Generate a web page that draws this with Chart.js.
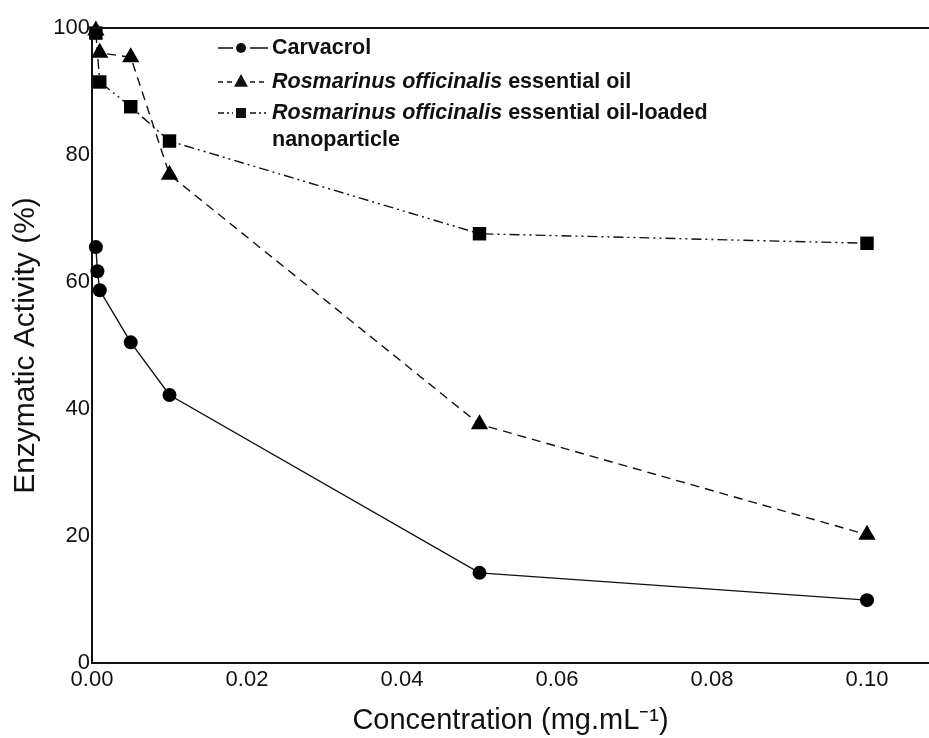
<!DOCTYPE html>
<html>
<head>
<meta charset="utf-8">
<script src="https://cdn.jsdelivr.net/npm/chart.js@4.4.1/dist/chart.umd.min.js"></script>
<style>
  html, body { margin: 0; padding: 0; background: #fff; }
  #wrap { width: 929px; height: 738px; }
</style>
</head>
<body>
<div id="wrap"><canvas id="chart"></canvas></div>
<script>
// concentrations (mg/mL) and enzymatic activity (%)
const carvacrolX = [0.0005, 0.0007, 0.001, 0.005, 0.01, 0.05, 0.1];
const carvacrolY = [65.5, 61.7, 58.7, 50.5, 42.2, 14.2, 9.9];

const oilX = [0.0005, 0.001, 0.005, 0.01, 0.05, 0.1];
const oilY = [99.6, 96.1, 95.4, 76.9, 37.6, 20.2];

const nanoX = [0.0005, 0.001, 0.005, 0.01, 0.05, 0.1];
const nanoY = [99.2, 91.5, 87.6, 82.2, 67.6, 66.1];

const xTicks = [0, 0.02, 0.04, 0.06, 0.08, 0.10];
const yTicks = [0, 20, 40, 60, 80, 100];

const FONT = "'Liberation Sans', Arial, sans-serif";

function pts(xs, ys) {
    return xs.map((x, i) => ({x: x, y: ys[i]}));
}

// legend rows: parts are [text, italic]
const legendRows = [
    {parts: [['Carvacrol', false]], dash: [], marker: 'circle'},
    {parts: [['Rosmarinus officinalis', true], [' essential oil', false]], dash: [5, 4], marker: 'triangle'},
    {parts: [['Rosmarinus officinalis', true], [' essential oil-loaded', false]], dash: [6, 3, 2, 3, 2, 3], marker: 'rect'},
    {parts: [['nanoparticle', false]], dash: null, marker: null}
];

function drawMarker(ctx, type, x, y, r) {
    ctx.beginPath();
    if (type === 'circle') {
        ctx.arc(x, y, r, 0, Math.PI * 2);
    } else if (type === 'triangle') {
        ctx.moveTo(x, y - r);
        ctx.lineTo(x + r * 0.866, y + r * 0.6);
        ctx.lineTo(x - r * 0.866, y + r * 0.6);
        ctx.closePath();
    } else {
        ctx.rect(x - r, y - r, 2 * r, 2 * r);
    }
    ctx.fill();
}

const framePlugin = {
    id: 'frame',
    afterDraw(chart) {
        const ctx = chart.ctx;
        const area = chart.chartArea;
        ctx.save();
        // top frame line
        ctx.strokeStyle = '#111';
        ctx.lineWidth = 2;
        ctx.beginPath();
        ctx.moveTo(area.left, area.top);
        ctx.lineTo(chart.width, area.top);
        ctx.stroke();

        // legend
        const rowY = [48, 82, 113, 140];
        const symL = 218, symR = 268, symC = 241, textX = 272;
        ctx.fillStyle = '#111';
        ctx.strokeStyle = '#111';
        ctx.lineWidth = 1.3;
        ctx.textBaseline = 'middle';
        legendRows.forEach((row, i) => {
            const y = rowY[i];
            if (row.dash) {
                ctx.setLineDash(row.dash);
                ctx.beginPath();
                ctx.moveTo(symL, y); ctx.lineTo(symC - 8, y);
                ctx.moveTo(symC + 9, y); ctx.lineTo(symR, y);
                ctx.stroke();
                ctx.setLineDash([]);
                const r = row.marker === 'circle' ? 5 : row.marker === 'triangle' ? 8 : 5;
                drawMarker(ctx, row.marker, symC, y, r);
            }
            let x = textX;
            row.parts.forEach(([txt, it]) => {
                ctx.font = (it ? 'italic ' : '') + 'bold 21.5px ' + FONT;
                ctx.fillText(txt, x, y);
                x += ctx.measureText(txt).width;
            });
        });
        ctx.restore();
    }
};

const config = {
    type: 'scatter',
    data: {
        datasets: [
            {
                label: 'Carvacrol',
                data: pts(carvacrolX, carvacrolY),
                showLine: true,
                borderColor: '#111',
                backgroundColor: '#000',
                borderWidth: 1.4,
                pointStyle: 'circle',
                pointRadius: 7,
                pointBorderWidth: 0
            },
            {
                label: 'Rosmarinus officinalis essential oil',
                data: pts(oilX, oilY),
                showLine: true,
                borderColor: '#111',
                backgroundColor: '#000',
                borderWidth: 1.4,
                borderDash: [9, 6],
                pointStyle: 'triangle',
                pointRadius: 10,
                pointBorderWidth: 0
            },
            {
                label: 'Rosmarinus officinalis essential oil-loaded nanoparticle',
                data: pts(nanoX, nanoY),
                showLine: true,
                borderColor: '#111',
                backgroundColor: '#000',
                borderWidth: 1.4,
                borderDash: [10, 4, 2, 4, 2, 4],
                pointStyle: 'rect',
                pointRadius: 9.5,
                pointBorderWidth: 0
            }
        ]
    },
    options: {
        responsive: true,
        maintainAspectRatio: false,
        animation: false,
        clip: false,
        layout: {autoPadding: false, padding: {top: 28, right: 0, left: 0, bottom: 0}},
        plugins: {
            legend: {display: false},
            tooltip: {enabled: false}
        },
        scales: {
            x: {
                type: 'linear',
                min: 0,
                max: 0.108,
                afterBuildTicks: s => { s.ticks = xTicks.map(v => ({value: v})); },
                afterFit: s => { s.height = 75; },
                grid: {display: false, drawTicks: false},
                border: {display: true, color: '#111', width: 2},
                ticks: {
                    padding: 4,
                    color: '#111',
                    font: {family: FONT, size: 22},
                    callback: v => v.toFixed(2)
                },
                title: {
                    display: true,
                    text: 'Concentration (mg.mL\u207B\u00B9)',
                    color: '#111',
                    font: {family: FONT, size: 29},
                    padding: {top: 0, bottom: 0}
                }
            },
            y: {
                min: 0,
                max: 100,
                afterBuildTicks: s => { s.ticks = yTicks.map(v => ({value: v})); },
                afterFit: s => { s.width = 92; },
                grid: {display: false, drawTicks: false},
                border: {display: true, color: '#111', width: 2},
                ticks: {
                    padding: 2,
                    color: '#111',
                    font: {family: FONT, size: 22}
                },
                title: {
                    display: true,
                    text: 'Enzymatic Activity (%)',
                    color: '#111',
                    font: {family: FONT, size: 30},
                    padding: {top: 8, bottom: 0}
                }
            }
        }
    },
    plugins: [framePlugin]
};

const chart = new Chart(document.getElementById('chart'), config);
</script>
</body>
</html>
